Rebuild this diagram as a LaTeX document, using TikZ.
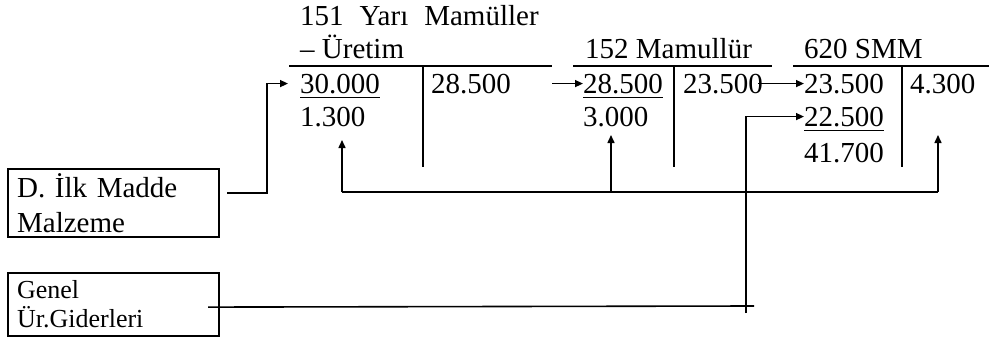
\documentclass[tikz,border=0pt]{standalone}
\usepackage{fontspec}
\setmainfont{Liberation Serif}
\usetikzlibrary{arrows.meta}

\begin{document}
\begin{tikzpicture}[x=1pt, y=-1pt,
  yazi/.style={anchor=base west, inner sep=0pt, font=\fontsize{29}{35}\selectfont},
  hat/.style={line width=2.2pt},
  ok/.style={line width=1.5pt, -{Triangle[length=8pt,width=7pt]}},
  alt/.style={line width=1.6pt},
  kutu/.style={draw, line width=2.2pt, anchor=north west, align=left, inner xsep=9pt}]

\useasboundingbox (0,0) rectangle (989,340);

% Kutular
\node[kutu, text width=193pt, minimum height=68pt,
  font=\fontsize{29}{35}\selectfont] (dmad) at (7,168) {D. İlk Madde\\Malzeme};
\node[kutu, text width=193pt, minimum height=63pt,
  font=\fontsize{26}{29}\selectfont] (genel) at (7,272) {Genel\\Ür.Giderleri};

% 151 hesabı
\node[yazi] (b151) at (300,25) {151\hspace{16pt}Yarı\hspace{16pt}Mamüller};
\node[yazi] (b151b) at (300,58) {– Üretim};
\draw[hat] (289,66) coordinate (h151a) -- (552,66) coordinate (h151b);
\draw[hat] (423,66) -- (423,167);
\node[yazi] (y30) at (300,93) {30.000};
\node[yazi] (y285) at (431,93) {28.500};
\node[yazi] (y13) at (300,126) {1.300};
\draw[alt] ([yshift=-4pt]y30.south west) -- ([yshift=-4pt]y30.south east);

% 152 hesabı
\node[yazi] (b152) at (585,58) {152 Mamullür};
\draw[hat] (573,66) -- (772,66);
\draw[hat] (674,66) -- (674,167);
\node[yazi] (m285) at (583,93) {28.500};
\node[yazi] (m235) at (683,93) {23.500};
\node[yazi] (m3) at (583,126) {3.000};
\draw[alt] ([yshift=-4pt]m285.south west) -- ([yshift=-4pt]m285.south east);

% 620 hesabı
\node[yazi] (b620) at (804,58) {620 SMM};
\draw[hat] (793,66) -- (989,66);
\draw[hat] (902,66) -- (902,167);
\node[yazi] (s235) at (804,93) {23.500};
\node[yazi] (s43) at (910,93) {4.300};
\node[yazi] (s225) at (804,126) {22.500};
\node[yazi] (s417) at (804,162) {41.700};
\draw[alt] ([yshift=-4pt]s225.south west) -- ([yshift=-4pt]s225.south east);

% oklar
\draw[ok] ([xshift=7pt,yshift=10pt]dmad.east) -| ([xshift=-33pt]y30.west) -- ([xshift=-12pt]y30.west);
\draw[ok] (h151b |- m285.west) -- (m285.west);
\draw[ok] ([xshift=-5pt]m235.east) -- (s235.west);

% alt çizgi
\coordinate (a1) at (342,192);
\coordinate (a2) at (611,192);
\coordinate (a3) at (938,192);
\draw[alt] (a1) -- (a3);
\draw[ok] (a1) -- (a1 |- 0,140);
\draw[ok] (a2) -- (a2 |- 0,135);
\draw[ok] (a3) -- (a3 |- 0,135);

% genel üretim giderleri
\draw[alt] ([xshift=-12pt,yshift=-2.5pt]genel.east) -- (754,306);
\draw[ok] (746,313) |- (s225.west);

\end{tikzpicture}
\end{document}
